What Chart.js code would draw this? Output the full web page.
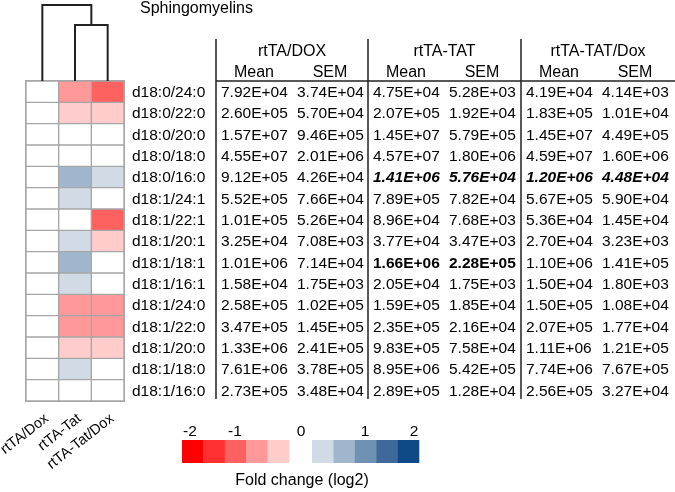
<!DOCTYPE html>
<html>
<head>
<meta charset="utf-8">
<script src="https://cdn.jsdelivr.net/npm/chart.js@4/dist/chart.umd.min.js"></script>
<style>
  html, body { margin: 0; padding: 0; background: #fff; }
  #wrap { width: 675px; height: 492px; position: relative; }
</style>
</head>
<body>
<div id="wrap"><canvas id="heat-chart"></canvas></div>
<script>
// heatmap columns and rows
const conditions = ['rtTA/Dox', 'rtTA-Tat', 'rtTA-Tat/Dox'];
const lipids = [
    'd18:0/24:0', 'd18:0/22:0', 'd18:0/20:0', 'd18:0/18:0', 'd18:0/16:0',
    'd18:1/24:1', 'd18:1/22:1', 'd18:1/20:1', 'd18:1/18:1', 'd18:1/16:1',
    'd18:1/24:0', 'd18:1/22:0', 'd18:1/20:0', 'd18:1/18:0', 'd18:1/16:0',
];

// log2 fold change per column
const foldDox    = [0, 0, 0, 0, 0, 0, 0, 0, 0, 0, 0, 0, 0, 0, 0];
const foldTat    = [-0.8, -0.4, 0, 0, 0.8, 0.4, 0, 0.4, 0.8, 0.4, -0.8, -0.8, -0.4, 0.4, 0];
const foldTatDox = [-1.2, -0.4, 0, 0, 0.4, 0, -1.2, -0.4, 0, 0, -0.8, -0.8, -0.4, 0, 0];

// table
const groups = ['rtTA/DOX', 'rtTA-TAT', 'rtTA-TAT/Dox'];
const subHeads = ['Mean', 'SEM'];
const doxMean = ['7.92E+04', '2.60E+05', '1.57E+07', '4.55E+07', '9.12E+05', '5.52E+05', '1.01E+05', '3.25E+04', '1.01E+06', '1.58E+04', '2.58E+05', '3.47E+05', '1.33E+06', '7.61E+06', '2.73E+05'];
const doxSem = ['3.74E+04', '5.70E+04', '9.46E+05', '2.01E+06', '4.26E+04', '7.66E+04', '5.26E+04', '7.08E+03', '7.14E+04', '1.75E+03', '1.02E+05', '1.45E+05', '2.41E+05', '3.78E+05', '3.48E+04'];
const tatMean = ['4.75E+04', '2.07E+05', '1.45E+07', '4.57E+07', '1.41E+06', '7.89E+05', '8.96E+04', '3.77E+04', '1.66E+06', '2.05E+04', '1.59E+05', '2.35E+05', '9.83E+05', '8.95E+06', '2.89E+05'];
const tatSem = ['5.28E+03', '1.92E+04', '5.79E+05', '1.80E+06', '5.76E+04', '7.82E+04', '7.68E+03', '3.47E+03', '2.28E+05', '1.75E+03', '1.85E+04', '2.16E+04', '7.58E+04', '5.42E+05', '1.28E+04'];
const tatDoxMean = ['4.19E+04', '1.83E+05', '1.45E+07', '4.59E+07', '1.20E+06', '5.67E+05', '5.36E+04', '2.70E+04', '1.10E+06', '1.50E+04', '1.50E+05', '2.07E+05', '1.11E+06', '7.74E+06', '2.56E+05'];
const tatDoxSem = ['4.14E+03', '1.01E+04', '4.49E+05', '1.60E+06', '4.48E+04', '5.90E+04', '1.45E+04', '3.23E+03', '1.41E+05', '1.80E+03', '1.08E+04', '1.77E+04', '1.21E+05', '7.67E+05', '3.27E+04'];

// colour key
const legendTicks = ['-2', '-1', '0', '1', '2'];
const reds = ['#ff0000', '#ff3030', '#ff6060', '#ff9999', '#ffcccc'];
const blues = ['#d0dbe6', '#a0b6cd', '#6f91b4', '#40699b', '#0f4a86'];

function foldColor(v) {
    const lvl = Math.min(5, Math.round(Math.abs(v) / 0.4));
    if (lvl === 0) return '#ffffff';
    return v < 0 ? reds[5 - lvl] : blues[lvl - 1];
}

const folds = [foldDox, foldTat, foldTatDox];
const tableCols = [doxMean, doxSem, tatMean, tatSem, tatDoxMean, tatDoxSem];

const FONT = '"Liberation Sans", Arial, sans-serif';

// everything around the heatmap: dendrogram, labels, table, key
const decor = {
    id: 'decor',
    afterDraw(chart) {
        const ctx = chart.ctx;
        const xs = chart.scales.x, ys = chart.scales.y;
        const area = chart.chartArea;
        const cx = i => xs.getPixelForValue(i);
        const rowY = r => ys.getPixelForValue(r + 0.5);
        ctx.save();

        // outer frame of grid
        ctx.strokeStyle = '#a6a6a6';
        ctx.lineWidth = 1;
        ctx.strokeRect(area.left - 0.5, area.top - 0.5, area.right - area.left + 1, area.bottom - area.top + 1);

        // dendrogram
        ctx.strokeStyle = '#222';
        ctx.lineWidth = 2;
        const mid = (cx(1) + cx(2)) / 2;
        ctx.beginPath();
        ctx.moveTo(cx(0), area.top); ctx.lineTo(cx(0), 5); ctx.lineTo(mid, 5); ctx.lineTo(mid, 25);
        ctx.moveTo(cx(1), area.top); ctx.lineTo(cx(1), 25); ctx.lineTo(cx(2), 25); ctx.lineTo(cx(2), area.top);
        ctx.stroke();

        // title
        ctx.fillStyle = '#000';
        ctx.font = '16px ' + FONT;
        ctx.textAlign = 'left';
        ctx.textBaseline = 'alphabetic';
        ctx.fillText('Sphingomyelins', 140, 13);

        // column labels (rotated)
        ctx.font = '14.5px ' + FONT;
        ctx.textAlign = 'right';
        conditions.forEach((c, i) => {
            ctx.save();
            ctx.translate(cx(i) + 7, 420);
            ctx.rotate(-38 * Math.PI / 180);
            ctx.fillText(c, 0, 0);
            ctx.restore();
        });

        // row labels
        ctx.font = '15.5px ' + FONT;
        ctx.textAlign = 'left';
        ctx.textBaseline = 'middle';
        lipids.forEach((l, r) => ctx.fillText(l, 132, rowY(r) + 1));

        // table lines
        const vlines = [216, 368, 521];
        ctx.strokeStyle = '#222';
        ctx.lineWidth = 1.5;
        ctx.beginPath();
        vlines.forEach(x => { ctx.moveTo(x, 39); ctx.lineTo(x, area.bottom - 2); });
        ctx.moveTo(216, area.top); ctx.lineTo(675, area.top);
        ctx.stroke();

        // table headers
        ctx.textAlign = 'center';
        ctx.textBaseline = 'alphabetic';
        ctx.font = '16px ' + FONT;
        const gEnd = [368, 521, 675];
        groups.forEach((g, i) => ctx.fillText(g, (vlines[i] + gEnd[i]) / 2, 56));
        const colX = [];
        vlines.forEach(x => { colX.push(x + 5); colX.push(x + 81); });
        ctx.font = '16px ' + FONT;
        colX.forEach((x, j) => ctx.fillText(subHeads[j % 2], x + 33, 77));

        // table values
        const emph = { '4': { cols: [2, 3, 4, 5], style: 'italic bold ' }, '8': { cols: [2, 3], style: 'bold ' } };
        ctx.textAlign = 'left';
        ctx.textBaseline = 'middle';
        tableCols.forEach((col, j) => {
            col.forEach((v, r) => {
                const e = emph[r];
                ctx.font = (e && e.cols.includes(j) ? e.style : '') + '15.5px ' + FONT;
                ctx.fillText(v, colX[j], rowY(r) + 1);
            });
        });

        // colour key
        const kTop = 440, kH = 23, w = 21.4;
        reds.forEach((c, i) => { ctx.fillStyle = c; ctx.fillRect(182 + i * w, kTop, w + 0.3, kH); });
        blues.forEach((c, i) => { ctx.fillStyle = c; ctx.fillRect(312 + i * w, kTop, w + 0.3, kH); });
        ctx.fillStyle = '#000';
        ctx.font = '15.5px ' + FONT;
        ctx.textAlign = 'center';
        ctx.textBaseline = 'alphabetic';
        const tickX = [190, 235, 301, 365, 414];
        legendTicks.forEach((t, i) => ctx.fillText(t, tickX[i], 436));
        ctx.font = '16px ' + FONT;
        ctx.fillText('Fold change (log2)', 302, 485);

        ctx.restore();
    }
};

const ctx = document.getElementById('heat-chart').getContext('2d');
const heatChart = new Chart(ctx, {
    type: 'bar',
    data: {
        labels: conditions,
        datasets: lipids.map((name, r) => ({
            label: name,
            data: conditions.map(() => 1),
            backgroundColor: folds.map(f => foldColor(f[r])),
            borderColor: '#a6a6a6',
            borderWidth: 1,
            borderSkipped: false,
            barPercentage: 1,
            categoryPercentage: 1,
        })),
    },
    options: {
        responsive: true,
        maintainAspectRatio: false,
        animation: false,
        events: [],
        layout: { padding: { left: 26, right: 551, top: 81, bottom: 91 } },
        plugins: { legend: { display: false }, tooltip: { enabled: false } },
        scales: {
            x: { display: false, stacked: true },
            y: { display: false, stacked: true, reverse: true, min: 0, max: lipids.length },
        },
    },
    plugins: [decor],
});
</script>
</body>
</html>
